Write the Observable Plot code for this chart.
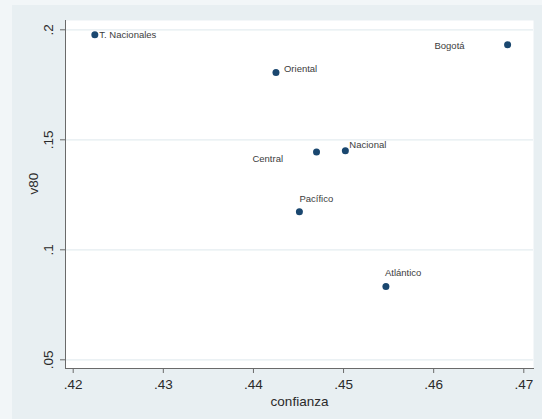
<!DOCTYPE html>
<html>
<head>
<meta charset="utf-8">
<script src="https://cdn.jsdelivr.net/npm/d3@7"></script>
<script src="https://cdn.jsdelivr.net/npm/@observablehq/plot@0.6"></script>
<style>
  html, body { margin: 0; padding: 0; }
  body { background: #e8eff2; }
  #graph {
    width: 542px; height: 419px;
    background: #e8eff2;
    box-shadow: inset 12px 5px 0 #f2f6f8, inset 11px 4px 0 #edf2f4;
  }
  #graph svg { display: block; }
</style>
</head>
<body>
<div id="graph"></div>
<script>
// Regions: trust ("confianza") against v80
const regions   = ["T. Nacionales", "Oriental", "Bogotá", "Central", "Nacional", "Pacífico", "Atlántico"];
const confianza = [0.4224, 0.4425, 0.4682, 0.4470, 0.4502, 0.4451, 0.4547];
const v80       = [0.1977, 0.1806, 0.1932, 0.1444, 0.1450, 0.1173, 0.0833];

// Axis ticks
const xTicks      = [0.42, 0.43, 0.44, 0.45, 0.46, 0.47];
const xTickLabels = [".42", ".43", ".44", ".45", ".46", ".47"];
const yTicks      = [0.05, 0.10, 0.15, 0.20];
const yTickLabels = [".05", ".1", ".15", ".2"];

const rows = regions.map((name, i) => ({name, x: confianza[i], y: v80[i]}));

// Marker-label placement around each dot
const placement = {
  "T. Nacionales": {dx: 4.5, dy: 0, anchor: "start"},
  "Oriental":      {dx: 8, dy: -4, anchor: "start"},
  "Bogotá":        {dx: -43, dy: 1.5, anchor: "end"},
  "Central":       {dx: -33.5, dy: 6.5, anchor: "end"},
  "Nacional":      {dx: 4, dy: -6, anchor: "start"},
  "Pacífico":      {dx: 0, dy: -12.5, anchor: "start"},
  "Atlántico":     {dx: -1, dy: -13.5, anchor: "start"}
};

const axisColor = "#6a6a6a";
const textColor = "#2a2a2a";

const chart = Plot.plot({
  width: 542,
  height: 419,
  marginLeft: 65,
  marginRight: 9,
  marginTop: 20,
  marginBottom: 51,
  style: {fontFamily: "'Liberation Sans', Arial, sans-serif", background: "transparent", overflow: "visible"},
  x: {domain: [0.419146, 0.471076]},
  y: {domain: [0.046045, 0.204227]},
  marks: [
    Plot.frame({fill: "white", stroke: null}),
    Plot.ruleY(yTicks, {stroke: "#e4edf0", strokeWidth: 1.2}),
    Plot.axisX({ticks: xTicks, tickFormat: (d, i) => xTickLabels[i], tickSize: 5, tickPadding: 6,
                fontSize: 13.5, fill: textColor, stroke: axisColor, label: null}),
    Plot.axisY({ticks: yTicks, tickFormat: () => "", tickSize: 5, stroke: axisColor, label: null}),
    Plot.text(yTicks, {y: d => d, text: (d, i) => yTickLabels[i], frameAnchor: "left", dx: -17,
                       rotate: -90, fontSize: 13.5, fill: textColor, textAnchor: "middle", lineAnchor: "middle"}),
    Plot.frame({anchor: "left", stroke: axisColor}),
    Plot.frame({anchor: "bottom", stroke: axisColor}),
    Plot.text(["confianza"], {frameAnchor: "bottom", dy: 33, fontSize: 13.5, fill: textColor, lineAnchor: "middle"}),
    Plot.text(["v80"], {frameAnchor: "left", dx: -32, rotate: -90, fontSize: 13.5, fill: textColor, lineAnchor: "middle"}),
    Plot.dot(rows, {x: "x", y: "y", r: 3.5, fill: "#1a476f", stroke: null}),
    ...rows.map(r => {
      const p = placement[r.name];
      return Plot.text([r], {x: "x", y: "y", text: "name", dx: p.dx, dy: p.dy, textAnchor: p.anchor,
                             fontSize: 9.5, fill: "#3c3c3c"});
    })
  ]
});

document.getElementById("graph").appendChild(chart);
</script>
</body>
</html>
